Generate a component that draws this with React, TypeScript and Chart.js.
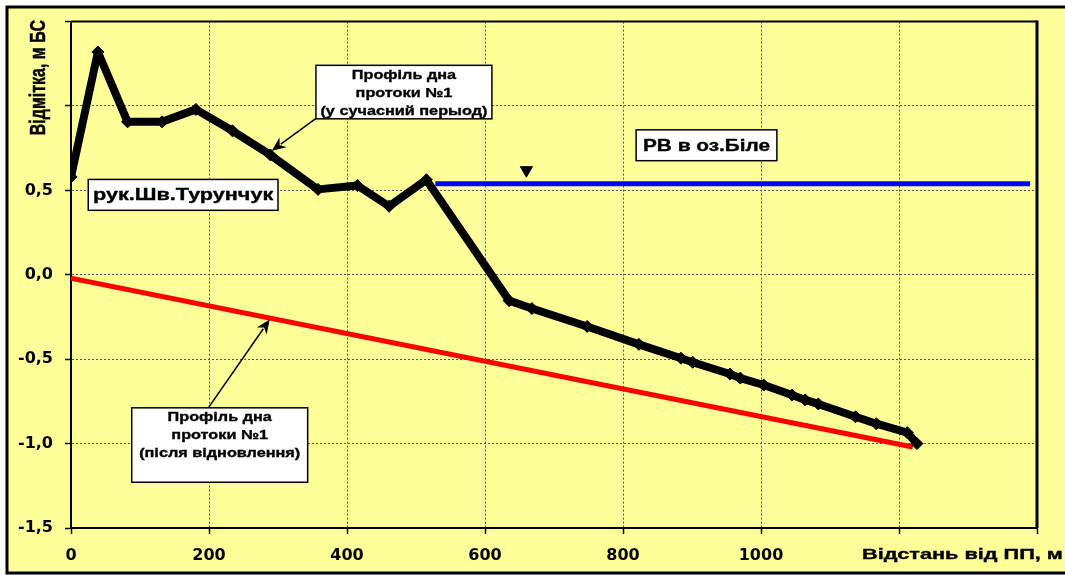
import React, { useEffect, useRef } from 'react';
import { Chart, registerables } from 'chart.js';

Chart.register(...registerables);

// ---- data ----
const profileX = [0, 39, 82, 132, 181, 234, 289, 358, 415, 461, 515, 635, 668, 748, 823, 884, 901, 955, 970, 1004, 1045, 1064, 1083, 1137, 1167, 1212, 1226];
const profileY = [0.58, 1.32, 0.906, 0.906, 0.98, 0.853, 0.71, 0.506, 0.529, 0.406, 0.563, -0.153, -0.2, -0.306, -0.412, -0.494, -0.518, -0.588, -0.612, -0.653, -0.712, -0.741, -0.765, -0.841, -0.882, -0.935, -1.0];
const restoredX = [0, 1220];
const restoredY = [-0.02, -1.02];
const lakeX = [528, 1390];
const lakeY = [0.54, 0.54];
const markerX = [660];
const markerY = [0.62];

const xTicks = [0, 200, 400, 600, 800, 1000, 1200, 1400];
const xTickLabels = ['0', '200', '400', '600', '800', '1000', '', ''];
const yTicks = [-1.5, -1.0, -0.5, 0, 0.5, 1.0, 1.5];
const yTickLabels = ['-1,5', '-1,0', '-0,5', '0,0', '0,5', '', ''];

const yTitle = 'Відмітка, м БС';
const xTitle = 'Відстань від ПП, м';

type Callout = {
  lines: string[];
  box: number[]; // data coords: left, top, right, bottom
  size: number;
  sx: number;
  step: number;
  first: number | null;
  arrow?: { from: number[]; to: number[] };
};

const callouts: Callout[] = [
  { lines: ['Профіль дна', 'протоки №1', '(у сучасний перыод)'], box: [355, 1.241, 610, 0.924], size: 13, sx: 1.25, step: 18, first: 10, arrow: { from: [356, 0.93], to: [291, 0.735] } },
  { lines: ['РВ в оз.Біле'], box: [819, 0.859, 1023, 0.676], size: 16, sx: 1.3, step: 18, first: null },
  { lines: ['рук.Шв.Турунчук'], box: [25, 0.565, 300, 0.382], size: 16, sx: 1.35, step: 18, first: null },
  { lines: ['Профіль дна', 'протоки №1', '(після відновлення)'], box: [88, -0.788, 343, -1.229], size: 13, sx: 1.25, step: 18, first: 10, arrow: { from: [199, -0.788], to: [288, -0.265] } },
];

const YELLOW = '#FFFF99';
const LIB = '"Liberation Sans", Arial, sans-serif';
const DEJ = '"DejaVu Sans", sans-serif';

function stretchText(ctx: CanvasRenderingContext2D, text: string, x: number, y: number, size: number, sx: number, align: CanvasTextAlign) {
  ctx.save();
  ctx.translate(x, y);
  ctx.scale(sx, 1);
  ctx.font = `bold ${size}px ${LIB}`;
  ctx.textAlign = align;
  ctx.textBaseline = 'middle';
  ctx.fillStyle = '#000';
  ctx.strokeStyle = '#000';
  ctx.lineWidth = 0.35;
  ctx.fillText(text, 0, 0);
  ctx.strokeText(text, 0, 0);
  ctx.restore();
}

function drawArrow(ctx: CanvasRenderingContext2D, x1: number, y1: number, x2: number, y2: number) {
  const ang = Math.atan2(y2 - y1, x2 - x1);
  const len = 14;
  const hw = 6;
  ctx.save();
  ctx.strokeStyle = '#000';
  ctx.fillStyle = '#000';
  ctx.lineWidth = 1.5;
  ctx.beginPath();
  ctx.moveTo(x1, y1);
  ctx.lineTo(x2 - Math.cos(ang) * len * 0.8, y2 - Math.sin(ang) * len * 0.8);
  ctx.stroke();
  ctx.beginPath();
  ctx.moveTo(x2, y2);
  ctx.lineTo(x2 - Math.cos(ang) * len - Math.sin(ang) * hw, y2 - Math.sin(ang) * len + Math.cos(ang) * hw);
  ctx.lineTo(x2 - Math.cos(ang) * len * 0.7, y2 - Math.sin(ang) * len * 0.7);
  ctx.lineTo(x2 - Math.cos(ang) * len + Math.sin(ang) * hw, y2 - Math.sin(ang) * len - Math.cos(ang) * hw);
  ctx.closePath();
  ctx.fill();
  ctx.restore();
}

const decorPlugin = {
  id: 'decor',
  beforeDraw(chart: any) {
    const ctx = chart.ctx as CanvasRenderingContext2D;
    ctx.save();
    ctx.fillStyle = '#fff';
    ctx.fillRect(0, 0, chart.width, chart.height);
    ctx.fillStyle = YELLOW;
    ctx.fillRect(7, 7, chart.width + 20, 566);
    ctx.strokeStyle = '#000';
    ctx.lineWidth = 3;
    ctx.strokeRect(7, 7, chart.width + 20, 566);
    ctx.restore();
  },
  afterDraw(chart: any) {
    const ctx = chart.ctx as CanvasRenderingContext2D;
    const a = chart.chartArea;
    const xs = chart.scales.x;
    const ys = chart.scales.y;
    ctx.save();
    // plot border
    ctx.strokeStyle = '#000';
    ctx.lineWidth = 2;
    ctx.beginPath();
    ctx.moveTo(a.left, a.top);
    ctx.lineTo(a.right, a.top);
    ctx.stroke();
    ctx.lineWidth = 3;
    ctx.beginPath();
    ctx.moveTo(a.right, a.top - 1);
    ctx.lineTo(a.right, a.bottom);
    ctx.stroke();
    ctx.restore();

    // callouts
    for (const c of callouts) {
      const l = xs.getPixelForValue(c.box[0]);
      const t = ys.getPixelForValue(c.box[1]);
      const r = xs.getPixelForValue(c.box[2]);
      const b = ys.getPixelForValue(c.box[3]);
      if (c.arrow) {
        drawArrow(ctx, xs.getPixelForValue(c.arrow.from[0]), ys.getPixelForValue(c.arrow.from[1]), xs.getPixelForValue(c.arrow.to[0]), ys.getPixelForValue(c.arrow.to[1]));
      }
      ctx.save();
      ctx.fillStyle = '#fff';
      ctx.fillRect(l, t, r - l, b - t);
      ctx.strokeStyle = '#000';
      ctx.lineWidth = 1.5;
      ctx.strokeRect(l, t, r - l, b - t);
      ctx.restore();
      const cx = (l + r) / 2;
      if (c.first === null) {
        stretchText(ctx, c.lines[0], cx, (t + b) / 2 + 1, c.size, c.sx, 'center');
      } else {
        c.lines.forEach((ln, i) => stretchText(ctx, ln, cx, t + c.first! + i * c.step, c.size, c.sx, 'center'));
      }
    }

    // y title (vertical, top aligned)
    ctx.save();
    ctx.translate(a.left - 32, a.top + 56);
    ctx.rotate(-Math.PI / 2);
    ctx.scale(1, 1.4);
    ctx.font = `bold 16px ${LIB}`;
    ctx.textAlign = 'center';
    ctx.textBaseline = 'middle';
    ctx.fillStyle = '#000';
    ctx.strokeStyle = '#000';
    ctx.lineWidth = 0.35;
    ctx.fillText(yTitle, 0, 0);
    ctx.strokeText(yTitle, 0, 0);
    ctx.restore();

    // x title (right aligned)
    stretchText(ctx, xTitle, a.right - 175, a.bottom + 27, 15.5, 1.4, 'left');
  },
};

function labelFor(v: number, ticks: number[], labels: string[]) {
  const i = ticks.findIndex((t) => Math.abs(t - v) < 1e-6);
  return i >= 0 ? labels[i] : '';
}

export default function App() {
  const ref = useRef<HTMLCanvasElement | null>(null);
  useEffect(() => {
    if (!ref.current) return;
    const tickFont = { family: DEJ, size: 16, weight: 'bold' as const };
    const chart = new Chart(ref.current, {
      type: 'scatter',
      data: {
        datasets: [
          {
            label: 'profile',
            data: profileX.map((x, i) => ({ x, y: profileY[i] })),
            showLine: true,
            borderColor: '#000',
            backgroundColor: '#000',
            borderWidth: 8,
            borderJoinStyle: 'round',
            pointStyle: 'rectRot',
            pointRadius: 6,
            pointBorderWidth: 1,
            order: 0,
          },
          {
            label: 'marker',
            data: markerX.map((x, i) => ({ x, y: markerY[i] })),
            pointStyle: 'triangle',
            rotation: 180,
            pointRadius: 7,
            backgroundColor: '#000',
            borderColor: '#000',
            order: 1,
          },
          {
            label: 'lake',
            data: lakeX.map((x, i) => ({ x, y: lakeY[i] })),
            showLine: true,
            borderColor: '#0000FF',
            borderWidth: 5,
            pointRadius: 0,
            order: 2,
          },
          {
            label: 'restored',
            data: restoredX.map((x, i) => ({ x, y: restoredY[i] })),
            showLine: true,
            borderColor: '#FF0000',
            borderWidth: 5,
            pointRadius: 0,
            order: 3,
          },
        ] as any,
      },
      options: {
        responsive: false,
        animation: false,
        devicePixelRatio: 1,
        layout: { padding: { left: 0, top: 18, right: 28, bottom: 0 } },
        plugins: { legend: { display: false }, tooltip: { enabled: false } },
        scales: {
          x: {
            type: 'linear',
            min: 0,
            max: 1400,
            afterBuildTicks: (s: any) => {
              s.ticks = xTicks.map((v) => ({ value: v }));
            },
            afterFit: (s: any) => {
              s.height = 47;
            },
            ticks: {
              color: '#000',
              font: tickFont,
              padding: 12,
              maxRotation: 0,
              autoSkip: false,
              callback: (v: any) => labelFor(Number(v), xTicks, xTickLabels),
            },
            grid: { color: '#555', lineWidth: 1, tickColor: '#000', tickLength: 6, tickWidth: 1.5 },
            border: { color: '#000', width: 2, dash: [2, 2] },
          },
          y: {
            type: 'linear',
            min: -1.5,
            max: 1.5,
            afterBuildTicks: (s: any) => {
              s.ticks = yTicks.map((v) => ({ value: v }));
            },
            afterFit: (s: any) => {
              s.width = 71;
            },
            ticks: {
              color: '#000',
              font: tickFont,
              padding: 12,
              autoSkip: false,
              callback: (v: any) => labelFor(Number(v), yTicks, yTickLabels),
            },
            grid: { color: '#555', lineWidth: 1, tickColor: '#000', tickLength: 6, tickWidth: 1.5 },
            border: { color: '#000', width: 2, dash: [2, 2] },
          },
        },
      } as any,
      plugins: [decorPlugin],
    });
    return () => chart.destroy();
  }, []);

  return (
    <div style={{ position: 'absolute', left: 0, top: 0, width: 1065, height: 575 }}>
      <canvas ref={ref} width={1065} height={575} style={{ display: 'block', width: 1065, height: 575 }} />
    </div>
  );
}
